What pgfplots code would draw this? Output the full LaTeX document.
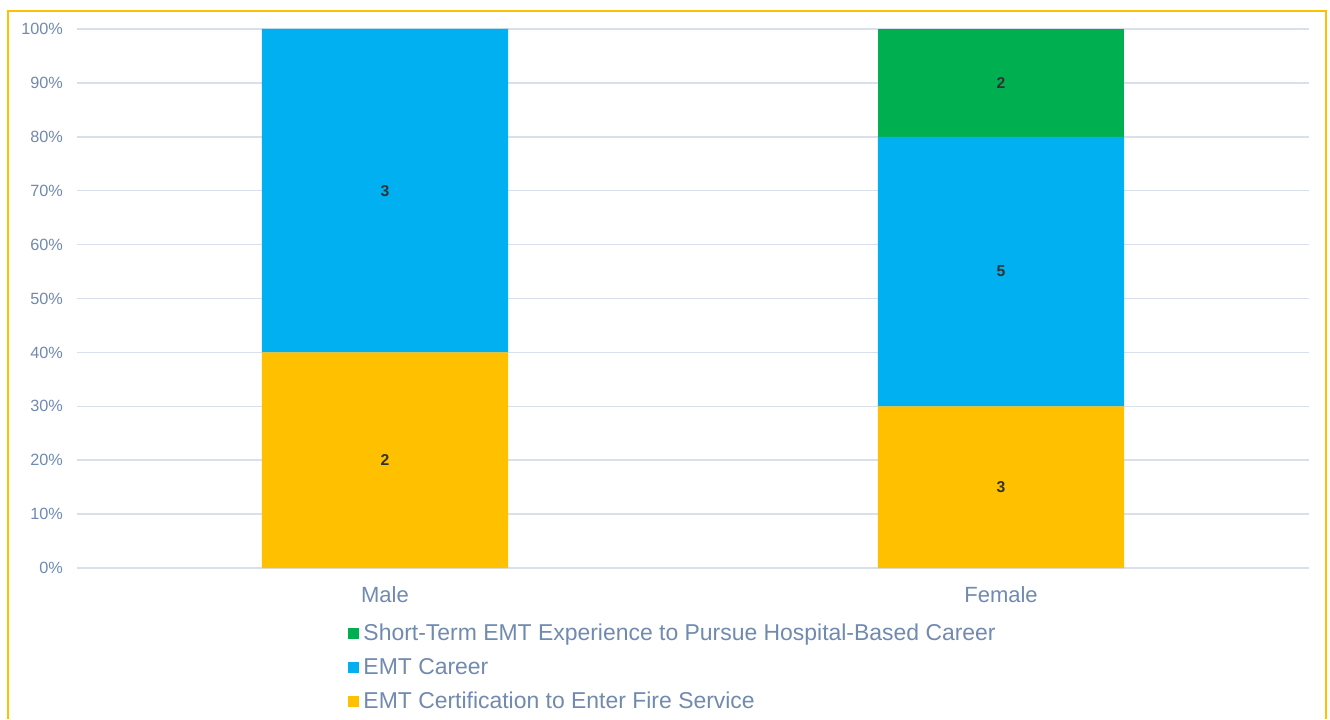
\documentclass[border=0pt]{standalone}
\usepackage{pgfplots}
\pgfplotsset{compat=1.18}
\usepackage{fontspec}
\setmainfont{Liberation Sans}
\definecolor{txt}{RGB}{112,138,176}
\definecolor{gridc}{RGB}{217,224,236}
\definecolor{cgreen}{RGB}{0,176,80}
\definecolor{cblue}{RGB}{0,176,240}
\definecolor{cyellow}{RGB}{255,192,0}
\definecolor{border}{RGB}{255,192,0}
\begin{document}
\begin{tikzpicture}
\useasboundingbox (0,0) rectangle (997.5pt,539.25pt);
\fill[white] (0,0) rectangle (997.5pt,539.25pt);
\draw[border, line width=1.6pt] (6pt,0) -- (6pt,531pt) -- (994.5pt,531pt) -- (994.5pt,0);
\begin{axis}[
  at={(57.75pt,113.25pt)}, anchor=south west,
  scale only axis, width=924pt, height=404.25pt,
  ybar stacked, bar width=0.4,
  xmin=-0.5, xmax=1.5, ymin=0, ymax=100,
  xtick={0,1}, xticklabels={Male,Female},
  ytick={0,10,...,100},
  yticklabel={\pgfmathprintnumber{\tick}\%},
  /pgf/number format/assume math mode=true,
  axis line style={draw=none},
  major tick length=0pt,
  ymajorgrids, grid style={gridc, line width=1.1pt},
  yticklabel style={font=\fontsize{12.2}{14}\selectfont, text=txt, xshift=-7pt},
  xticklabel style={font=\fontsize{16.5}{19}\selectfont, text=txt, yshift=-10.5pt},
  legend style={at={(0.2195,-0.0985)}, anchor=north west, draw=none, fill=none,
    inner sep=0pt, font=\fontsize{17.2}{20}\selectfont, text=txt,
    row sep=7.8pt, column sep=1.6pt, cells={anchor=west}},
  legend cell align=left,
  reverse legend,
  legend image code/.code={\fill[#1] (0pt,-4.1pt) rectangle (8.25pt,4.1pt);},
]
\addplot[fill=cyellow, draw=none] coordinates {(0,40) (1,30)};
\addlegendentry{EMT Certification to Enter Fire Service}
\addplot[fill=cblue, draw=none] coordinates {(0,60) (1,50)};
\addlegendentry{EMT Career}
\addplot[fill=cgreen, draw=none] coordinates {(0,0) (1,20)};
\addlegendentry{Short-Term EMT Experience to Pursue Hospital-Based Career}
\draw[gridc, line width=1.1pt] (axis cs:-0.5,0) -- (axis cs:1.5,0);
\end{axis}
\begin{axis}[
  at={(57.75pt,113.25pt)}, anchor=south west,
  scale only axis, width=924pt, height=404.25pt,
  xmin=-0.5, xmax=1.5, ymin=0, ymax=100,
  hide axis,
]
\addplot[draw=none, mark=none, nodes near coords, point meta=explicit symbolic,
  every node near coord/.append style={anchor=center, font=\bfseries\fontsize{11.8}{13}\selectfont, text=black!80}]
  table[meta=n] {
x y n
0 20 2
0 70 3
1 15 3
1 55 5
1 90 2
};
\end{axis}
\end{tikzpicture}
\end{document}
